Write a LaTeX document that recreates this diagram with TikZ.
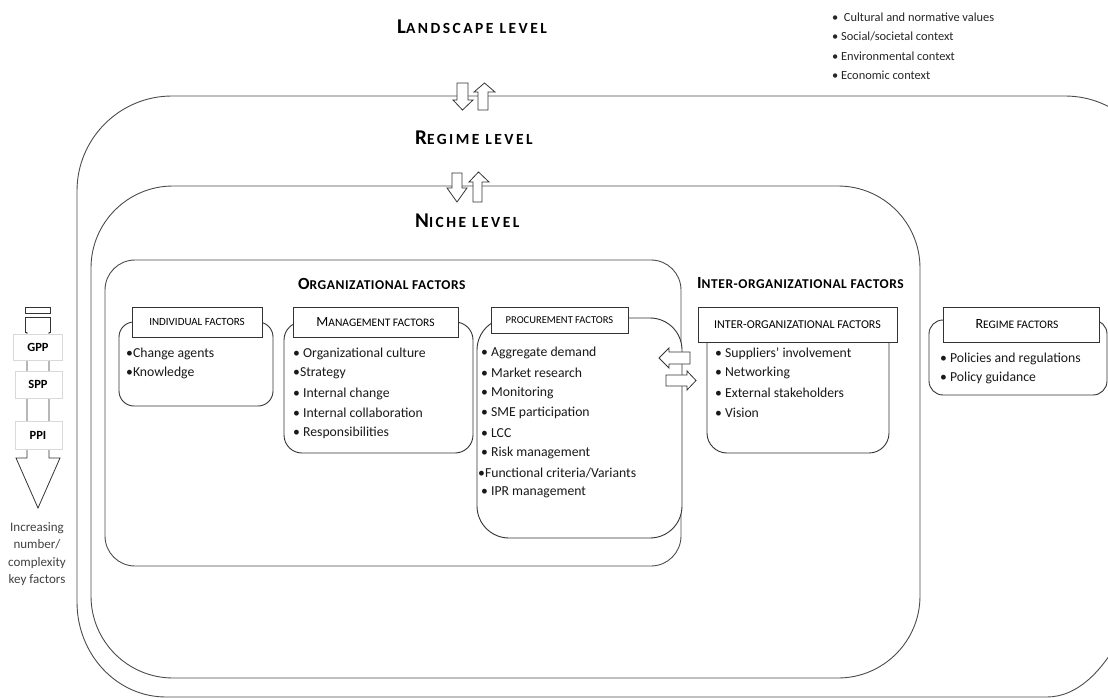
\documentclass[tikz,border=0pt]{standalone}
\usepackage{fontspec}
\setmainfont{Carlito}
\newcommand{\hsc}[4]{{\fontsize{#1}{#1}\selectfont #3}{\fontsize{#2}{#2}\selectfont #4}}
\tikzset{
  frame/.style={draw=black!70, line width=0.9pt},
  hdrbox/.style={draw=black!80, fill=white, line width=0.9pt},
  bodybox/.style={draw=black!80, fill=white, line width=0.9pt},
  blockarrow/.style={draw=black!80, fill=white, line width=0.8pt, line join=miter},
  labbox/.style={draw=black!15, fill=white, line width=0.6pt},
  item/.style={anchor=west, inner sep=0pt, font=\fontsize{13.7}{15}\selectfont, text=black!90},
  ctx/.style={anchor=west, inner sep=0pt, font=\fontsize{12.4}{14}\selectfont, text=black!85},
  lvl/.style={anchor=west, inner sep=0pt, font=\bfseries\addfontfeatures{LetterSpace=16}, text=black},
  title/.style={anchor=west, inner sep=0pt, font=\bfseries\addfontfeatures{LetterSpace=4}, text=black},
  hdrtxt/.style={inner sep=0pt, text=black},
  side/.style={inner sep=0pt, font=\fontsize{13}{17.5}\selectfont, text=black!75},
  tag/.style={inner sep=0pt, font=\bfseries\fontsize{12.5}{14}\selectfont, text=black}
}
\begin{document}
\begin{tikzpicture}[x=1pt,y=-1pt]
\useasboundingbox (0,0) rectangle (1108,698);
\clip (0,0) rectangle (1108,698);

% level frames
\draw[frame] (77,602) -- (77,191) arc[start angle=180,end angle=270,radius=95]
  -- (1065,96) arc[start angle=270,end angle=360,radius=95]
  -- (1160,447) arc[start angle=0,end angle=90,x radius=113,y radius=250]
  -- (166,697) arc[start angle=90,end angle=180,x radius=89,y radius=95] -- cycle;
\draw[frame, rounded corners=82pt] (91,186) rectangle (920,678);
\draw[frame, rounded corners=30pt] (105,260) rectangle (681,566);

% level titles
\node[lvl] (landscape) at (397,27) {\hsc{21}{15.5}{L}{ANDSCAPE LEVEL}};
\node[lvl] (regime) at (415,138) {\hsc{21}{15.5}{R}{EGIME LEVEL}};
\node[lvl] (niche) at (415,221) {\hsc{21}{15.5}{N}{ICHE LEVEL}};

% landscape context list
\node[ctx] (c1) at (832,17) {•\ \ Cultural and normative values};
\node[ctx] (c2) at (832,36) {• Social/societal context};
\node[ctx] (c3) at (832,56) {• Environmental context};
\node[ctx] (c4) at (832,75) {• Economic context};

% landscape <-> regime arrows
\draw[blockarrow] (457,83) -- (468,83) -- (468,100) -- (473,100) -- (462.5,110) -- (453,100) -- (457,100) -- cycle;
\draw[blockarrow] (478,110) -- (478,92) -- (474,92) -- (484.5,83) -- (495,92) -- (488,92) -- (488,110) -- cycle;
% regime <-> niche arrows
\draw[blockarrow] (452,173) -- (462,173) -- (462,188) -- (467,188) -- (457,202) -- (447,188) -- (452,188) -- cycle;
\draw[blockarrow] (473,202) -- (473,182) -- (469,182) -- (478.5,172) -- (489,182) -- (482,182) -- (482,202) -- cycle;

% organizational factors
\node[title] (orgtitle) at (298,284) {\hsc{17}{13.5}{O}{RGANIZATIONAL FACTORS}};

% individual
\draw[bodybox, rounded corners=15pt] (119,322) rectangle (273,406);
\draw[hdrbox] (132,307) rectangle (262,337);
\node[hdrtxt] (indh) at (197,322) {\hsc{11}{11}{}{INDIVIDUAL FACTORS}};
\node[item] (i1) at (126,354) {•Change agents};
\node[item] (i2) at (126,373) {•Knowledge};

% management
\draw[bodybox, rounded corners=18pt] (284,322) rectangle (473,453);
\draw[hdrbox] (293,307) rectangle (458,337);
\node[hdrtxt] (mgmh) at (375.5,322) {\hsc{14}{11.5}{M}{ANAGEMENT FACTORS}};
\node[item] (m1) at (293,354) {• Organizational culture};
\node[item] (m2) at (293,373) {•Strategy};
\node[item] (m3) at (293,394) {• Internal change};
\node[item] (m4) at (293,413) {• Internal collaboration};
\node[item] (m5) at (293,433) {• Responsibilities};

% procurement
\draw[bodybox, rounded corners=32pt] (477,318) rectangle (682,538);
\draw[hdrbox] (491,307) rectangle (628,333);
\node[hdrtxt] (prch) at (559.5,320) {\hsc{10.5}{10.5}{}{PROCUREMENT FACTORS}};
\node[item] (p1) at (481,353) {• Aggregate demand};
\node[item] (p2) at (481,373) {• Market research};
\node[item] (p3) at (481,393) {• Monitoring};
\node[item] (p4) at (481,413) {• SME participation};
\node[item] (p5) at (481,433) {• LCC};
\node[item] (p6) at (481,453) {• Risk management};
\node[item] (p7) at (478,473) {•Functional criteria/Variants};
\node[item] (p8) at (481,492) {• IPR management};

% exchange arrows
\draw[blockarrow] (659,358) -- (669,348) -- (669,352) -- (690,352) -- (690,364) -- (669,364) -- (669,368) -- cycle;
\draw[blockarrow] (666,375) -- (687,375) -- (687,371) -- (696,380.5) -- (687,390) -- (687,386) -- (666,386) -- cycle;

% inter-organizational factors
\node[title] (intertitle) at (697,283) {\hsc{17}{13.5}{I}{NTER-ORGANIZATIONAL FACTORS}};
\draw[bodybox, rounded corners=20pt] (707,342) -- (707,453) -- (889,453) -- (889,342);
\draw[hdrbox] (698,307) rectangle (897,342);
\node[hdrtxt] (interh) at (797.5,324.5) {\hsc{12}{12}{}{INTER-ORGANIZATIONAL FACTORS}};
\node[item] (n1) at (715,354) {• Suppliers’ involvement};
\node[item] (n2) at (715,373) {• Networking};
\node[item] (n3) at (715,393) {• External stakeholders};
\node[item] (n4) at (715,413) {• Vision};

% regime factors
\draw[bodybox, rounded corners=14pt] (929,320) rectangle (1107,395);
\draw[hdrbox] (943,307) rectangle (1099,342);
\node[hdrtxt] (regh) at (1017,324.5) {\hsc{14}{11.5}{R}{EGIME FACTORS}};
\node[item] (r1) at (940,359) {• Policies and regulations};
\node[item] (r2) at (940,378) {• Policy guidance};

% left side arrow
\draw[blockarrow] (25,307) rectangle (50,313);
\draw[blockarrow] (25,317) rectangle (50,332);
\draw[blockarrow] (27,332) -- (27,458) -- (16,458) -- (38,508) -- (60,458) -- (49,458) -- (49,332);
\draw[labbox] (13,334) rectangle (62,360);
\draw[labbox] (15,371) rectangle (62,398);
\draw[labbox] (15,421) rectangle (62,449);
\node[tag] (gpp) at (38,347) {GPP};
\node[tag] (spp) at (38,384) {SPP};
\node[tag] (ppi) at (38,435) {PPI};
\node[side, align=center] (incr) at (37,554) {Increasing\\number/\\complexity\\key factors};
\end{tikzpicture}
\end{document}
